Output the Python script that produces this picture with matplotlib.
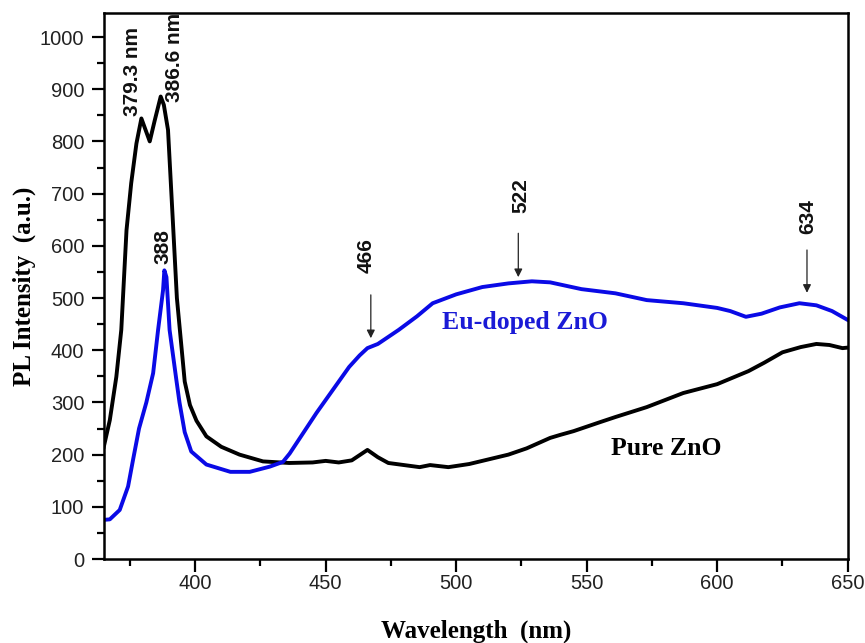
import matplotlib
matplotlib.use("Agg")
import matplotlib.pyplot as plt
from matplotlib.ticker import MultipleLocator

# Pure ZnO (black)
pure_wl = [365, 367.3, 369.8, 371.7, 373.7, 375.5, 377.5, 379.4, 381, 382.6, 384.5, 386.8,
           388, 389.6, 391.5, 393, 394.5, 396, 398, 400.5, 404.3, 410, 417, 426, 436,
           445, 450, 455, 460, 463, 466, 470, 474, 480, 486, 490, 497, 505, 510, 520,
           527, 536, 540, 545, 555, 561, 573, 587, 600, 612, 618, 625, 632, 638, 643,
           648, 650]
pure_int = [215, 266, 349, 439, 630, 720, 796, 844, 822, 800, 840, 886,
            870, 822, 643, 500, 420, 340, 295, 265, 235, 215, 200, 187, 184,
            185, 188, 185, 189, 199, 209, 195, 184, 180, 176, 180, 176, 182, 188, 200,
            212, 232, 238, 245, 262, 272, 291, 318, 335, 360, 376, 396, 406, 412, 410,
            404, 405]

# Eu-doped ZnO (blue)
eu_wl = [365, 367.3, 371.1, 374.3, 376.2, 378.5, 381.3, 383.9, 385.8, 387.7, 388.2, 389,
         390.2, 392.8, 394, 396, 398.5, 404.3, 413.5, 420.9, 428.6, 433.6, 436.2, 446.5,
         459, 463, 466, 470, 478, 485, 491, 500, 510, 520, 529, 536, 548, 561, 573,
         587, 600, 605, 611, 617, 624, 631.5, 638, 644, 650]
eu_int = [75, 76, 94, 139, 190, 250, 300, 356, 439, 515, 553, 540,
          439, 343, 300, 243, 206, 181, 167, 167, 177, 186, 202, 280,
          368, 390, 404, 412, 439, 465, 490, 507, 521, 528, 532, 530, 517, 509, 496,
          490, 481, 475, 464, 470, 482, 490, 486, 475, 458]

peak_labels = ["379.3 nm", "386.6 nm", "388", "466", "522", "634"]

plt.rcParams['font.family'] = ['Liberation Sans', 'DejaVu Sans']

fig = plt.figure(figsize=(8.65, 6.43), dpi=100)
ax = fig.add_axes([0.120, 0.1306, 0.860, 0.8492])

ax.plot(pure_wl, pure_int, color='black', lw=2.8, solid_joinstyle='round')
ax.plot(eu_wl, eu_int, color='#0a0ae6', lw=2.8, solid_joinstyle='round')

ax.set_xlim(365, 650)
ax.set_ylim(0, 1046)
ax.xaxis.set_major_locator(MultipleLocator(50))
ax.xaxis.set_minor_locator(MultipleLocator(25))
ax.yaxis.set_major_locator(MultipleLocator(100))
ax.yaxis.set_minor_locator(MultipleLocator(50))
ax.tick_params(which='major', direction='out', length=9, width=1.6,
               labelsize=14.5, labelcolor='#222222', pad=5)
ax.tick_params(which='minor', direction='out', length=5, width=1.6)
ax.tick_params(axis='x', which='major', pad=2)
ax.tick_params(top=False, right=False, which='both')
for sp in ax.spines.values():
    sp.set_linewidth(1.8)

ax.set_xlabel('Wavelength  (nm)', family=['Liberation Serif'], fontweight='bold',
              fontsize=18, labelpad=19)
ax.set_ylabel('PL Intensity  (a.u.)', family=['Liberation Serif'], fontweight='bold',
              fontsize=18, labelpad=3)

# rotated peak labels
label_pos = [(375.9, 934), (392.0, 960), (387.7, 599), (465.5, 581), (524.7, 697), (634.7, 656)]
for txt, (x, y) in zip(peak_labels, label_pos):
    ax.text(x, y, txt, rotation=90, ha='center', va='center', fontsize=15,
            fontweight='bold', color='#111111', clip_on=False)

# arrows
arrows = [(467.3, 506, 423), (523.8, 624, 540), (634.4, 592, 510)]
for x, y0, y1 in arrows:
    ax.annotate('', xy=(x, y1), xytext=(x, y0),
                arrowprops=dict(arrowstyle='-|>', color='#222222', lw=0.9,
                                mutation_scale=12, shrinkA=0, shrinkB=0))

ax.text(494.4, 454, 'Eu-doped ZnO', family=['Liberation Serif'], fontweight='bold',
        fontsize=18.5, color='#1a1ad6', ha='left', va='center')
ax.text(559.5, 211, 'Pure ZnO', family=['Liberation Serif'], fontweight='bold',
        fontsize=18.5, color='black', ha='left', va='center')

fig.savefig('out.png', dpi=100)
